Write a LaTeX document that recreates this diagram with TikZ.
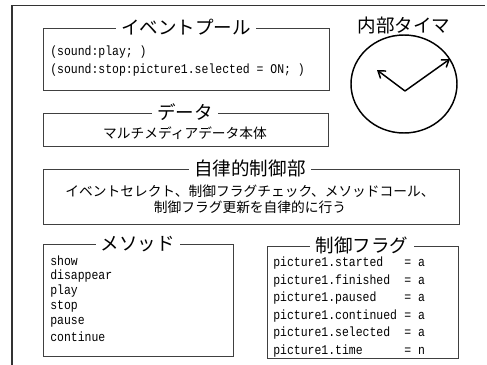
\documentclass[tikz,border=0pt]{standalone}
\usepackage{fontspec}
\setmainfont{Noto Sans CJK JP}
\newfontfamily\jpfont{Noto Sans CJK JP}
\newfontfamily\monofnt[FakeStretch=0.86]{Liberation Mono}
\usetikzlibrary{arrows.meta}
\begin{document}
\begin{tikzpicture}[x=0.75pt,y=-0.75pt,
  box/.style={draw=black!75, line width=0.75pt},
  frame/.style={draw=black!80, line width=0.75pt},
  ttl/.style={fill=white, inner xsep=4pt, inner ysep=0pt, font=\jpfont\fontsize{13.9}{16}\selectfont},
  jbody/.style={inner sep=0pt, align=center, font=\jpfont\fontsize{10.3}{12.2}\selectfont},
  mono/.style={inner sep=0pt, anchor=west, font=\monofnt\fontsize{10}{12}\selectfont},
  hand/.style={line width=1.1pt, -{Straight Barb[length=5pt, width=7pt, line width=1.1pt]}}
]
\useasboundingbox (0,0) rectangle (487,365);
% outer frame
\draw[frame] (12,365) -- (12,5) -- (485,5);

% event pool
\draw[box] (43,28) rectangle (329,90);
\node[ttl] (evt) at (186,27) {イベントプール};
\node[mono] (ev1) at (50,52) {(sound:play; )};
\node[mono] (ev2) at (50,70) {(sound:stop:picture1.selected = ON; )};

% data
\draw[box] (43,113) rectangle (328,146);
\node[ttl] (dat) at (185,112) {データ};
\node[jbody] (datx) at (185,133) {マルチメディアデータ本体};

% autonomous control
\draw[box] (43,169) rectangle (459,224);
\node[ttl] (ctl) at (250,168) {自律的制御部};
\node[jbody] (ctx) at (250,199) {イベントセレクト、制御フラグチェック、メソッドコール、\\制御フラグ更新を自律的に行う};

% methods
\draw[box] (43,244) rectangle (233,356);
\node[ttl] (met) at (138,244) {メソッド};
\foreach \m [count=\i from 0] in {show,disappear,play,stop,pause,continue}
  \node[mono] (m\i) at (50,261+15.2*\i) {\m};

% flags
\draw[box] (267,246) rectangle (458,358);
\node[ttl] (flg) at (362,245) {制御フラグ};
\foreach \n/\v [count=\i from 0] in {started/a,finished/a,paused/a,continued/a,selected/a,time/n} {
  \node[mono] (f\i) at (273,263+17.6*\i) {picture1.\n};
  \node[mono] (fv\i) at (404,263+17.6*\i) {= \v};
}

% internal timer
\node[inner sep=0pt, font=\jpfont\fontsize{13.9}{16}\selectfont] (tmr) at (404,25) {内部タイマ};
\draw[line width=1.1pt] (404,84) ellipse [x radius=53, y radius=49];
\coordinate (hc) at (405,91);
\coordinate (hr) at (450,59);
\coordinate (hl) at (377,70);
\draw[hand] (hc) -- (hr);
\draw[hand] (hc) -- (hl);
\end{tikzpicture}
\end{document}
